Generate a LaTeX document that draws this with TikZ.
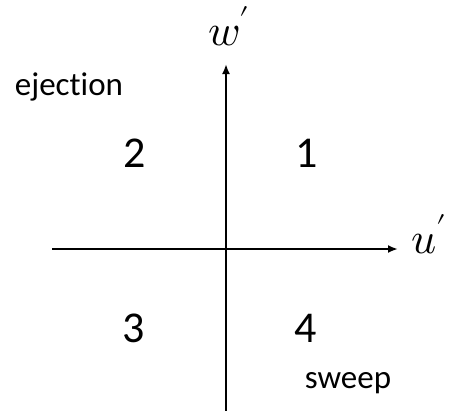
\documentclass[tikz,border=0pt]{standalone}
\usepackage{unicode-math}
\setmainfont{Carlito}[Ligatures={NoCommon,NoRare,NoContextual}]
\setmathfont{Latin Modern Math}
\usetikzlibrary{arrows.meta}
\begin{document}
\begin{tikzpicture}[x=1pt,y=-1pt,
  axis/.style={line width=2.2pt,-{Latex[length=10pt,width=8pt]}},
  lbl/.style={inner sep=0pt,anchor=base,font=\fontsize{33}{36}\selectfont},
  quad/.style={inner sep=0pt,anchor=base,font=\fontsize{44}{48}\selectfont},
  var/.style={inner sep=0pt,anchor=base,font=\fontsize{44}{48}\selectfont}]
\useasboundingbox (0,0) rectangle (454,410);
\coordinate (xl) at (52,249);
\coordinate (xr) at (398,249);
\coordinate (yb) at (226,412);
\coordinate (yt) at (226,64);
\draw[axis] (xl) -- (xr);
\draw[axis] (yb) -- (yt);
\node[var] (w) at (229,45) {$w'$};
\node[var] (u) at (429,253) {$u'$};
\node[lbl] (ej) at (69,95) {ejection};
\node[lbl] (sw) at (348,388) {sweep};
\node[quad] (q2) at (134.5,167) {2};
\node[quad] (q1) at (307,167) {1};
\node[quad] (q3) at (134,342) {3};
\node[quad] (q4) at (306,342) {4};
\end{tikzpicture}
\end{document}
